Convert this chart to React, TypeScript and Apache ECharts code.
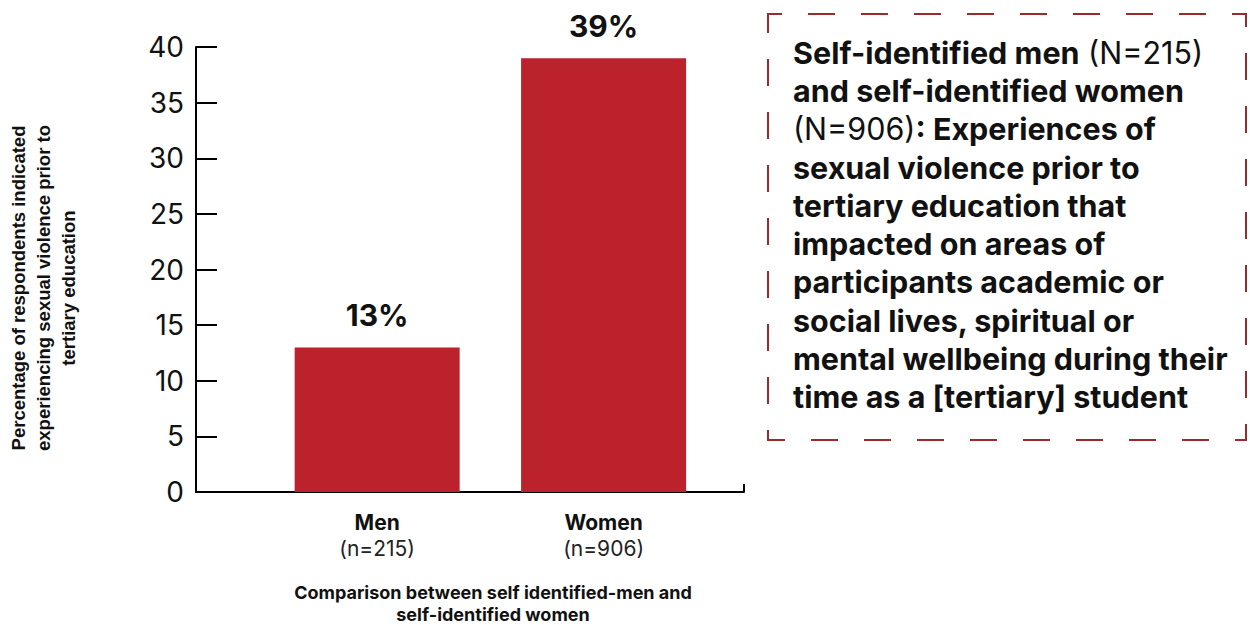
import React, { useEffect, useRef } from "react";
import * as echarts from "echarts";

const categories = ["Men", "Women"];
const sampleSizes = ["(n=215)", "(n=906)"];
const percentages = [13, 39];
const yTicks = [0, 5, 10, 15, 20, 25, 30, 35, 40];

const boxLines: [string, string][][] = [
  [["b", "Self-identified men"], ["r", " (N=215)"]],
  [["b", "and self-identified women"]],
  [["r", "(N=906)"], ["b", ": Experiences of"]],
  [["b", "sexual violence prior to"]],
  [["b", "tertiary education that"]],
  [["b", "impacted on areas of"]],
  [["b", "participants academic or"]],
  [["b", "social lives, spiritual or"]],
  [["b", "mental wellbeing during their"]],
  [["b", "time as a [tertiary] student"]],
];

export default function App() {
  const ref = useRef<HTMLDivElement>(null);
  useEffect(() => {
    if (!ref.current) return;
    const chart = echarts.init(ref.current, undefined, { renderer: "svg" });
    const boxText = boxLines
      .map((segs) => segs.map(([s, t]) => `{${s}|${t}}`).join(""))
      .join("\n");
    chart.setOption({
      animation: false,
      textStyle: { fontFamily: "Inter" },
      grid: { left: 196, right: 506, top: 47, bottom: 133 },
      xAxis: {
        type: "value",
        min: 0.2,
        max: 2.62,
        splitLine: { show: false },
        axisLine: { show: true, lineStyle: { color: "#000", width: 2 } },
        axisTick: {
          show: true,
          inside: true,
          length: 8,
          customValues: [2.62],
          lineStyle: { color: "#000", width: 2 },
        },
        axisLabel: {
          customValues: [1, 2],
          margin: 17,
          formatter: (v: number) => {
            const i = Math.round(v) - 1;
            return `{b|${categories[i]}}\n{n|${sampleSizes[i]}}`;
          },
          rich: {
            b: { fontFamily: "Inter", fontWeight: "bold", fontSize: 21, color: "#111", lineHeight: 26 },
            n: { fontFamily: "Inter", fontSize: 21, color: "#222", lineHeight: 26 },
          },
        },
      },
      yAxis: {
        type: "value",
        min: yTicks[0],
        max: yTicks[yTicks.length - 1],
        interval: 5,
        splitLine: { show: false },
        axisLine: { show: true, lineStyle: { color: "#000", width: 2 } },
        axisTick: { show: true, inside: true, length: 21, lineStyle: { color: "#000", width: 2 } },
        axisLabel: { fontFamily: "Inter", fontSize: 28, color: "#111", margin: 12 },
      },
      title: {
        text: "Comparison between self identified-men and\nself-identified women",
        left: 488,
        top: 576,
        textAlign: "center",
        textStyle: { fontFamily: "Inter", fontWeight: "bold", fontSize: 18, color: "#111", lineHeight: 22 },
      },
      graphic: [
        {
          type: "text",
          x: 43,
          y: 288,
          rotation: Math.PI / 2,
          style: {
            text: "Percentage of respondents indicated\nexperiencing sexual violence prior to\ntertiary education",
            fontFamily: "Liberation Sans",
            fontWeight: "bold",
            fontSize: 18.5,
            lineHeight: 25,
            fill: "#111",
            align: "center",
            verticalAlign: "middle",
          },
        },
        {
          type: "rect",
          shape: { x: 768, y: 14, width: 478, height: 426 },
          style: { fill: "none", stroke: "#9b2a2c", lineWidth: 2, lineDash: [27, 26], lineDashOffset: 13 },
        },
        {
          type: "text",
          x: 793,
          y: 33,
          style: {
            text: boxText,
            rich: {
              b: { fontFamily: "Inter", fontWeight: "bold", fontSize: 30.5, lineHeight: 38.3, fill: "#111" },
              r: { fontFamily: "Inter", fontSize: 30.5, lineHeight: 38.3, fill: "#111" },
            },
          },
        },
      ],
      series: [
        {
          type: "bar",
          barWidth: 165,
          data: percentages.map((v, i) => [i + 1, v]),
          itemStyle: { color: "#bb222b" },
          label: {
            show: true,
            position: "top",
            distance: 17,
            formatter: (p: any) => `${p.value[1]}%`,
            fontFamily: "Inter",
            fontWeight: "bold",
            fontSize: 30,
            color: "#111",
          },
        },
      ],
    });
    return () => chart.dispose();
  }, []);
  return (
    <div
      ref={ref}
      style={{ position: "fixed", left: 0, top: 0, width: 1250, height: 625, background: "#fff" }}
    />
  );
}
